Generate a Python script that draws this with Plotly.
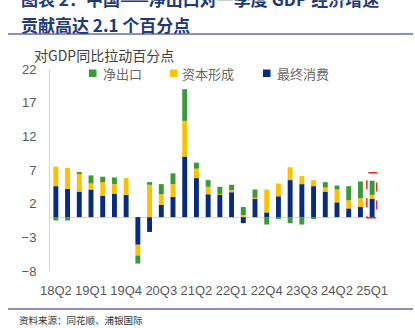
import plotly.graph_objects as go

# Quarterly contributions to China's year-on-year GDP growth (percentage points)
quarters = ["18Q2", "18Q3", "18Q4", "19Q1", "19Q2", "19Q3", "19Q4",
            "20Q1", "20Q2", "20Q3", "20Q4", "21Q1", "21Q2", "21Q3", "21Q4",
            "22Q1", "22Q2", "22Q3", "22Q4", "23Q1", "23Q2", "23Q3", "23Q4",
            "24Q1", "24Q2", "24Q3", "24Q4", "25Q1"]
final_consumption = [4.6, 4.2, 3.8, 4.1, 3.2, 3.5, 3.3,
                     -4.1, -2.2, 1.8, 3.0, 9.0, 5.8, 3.4, 3.3,
                     3.7, -0.9, 2.7, 0.7, 3.1, 5.5, 4.9, 4.6,
                     3.8, 2.2, 1.3, 1.5, 2.7]
capital_formation = [2.9, 3.1, 2.7, 0.9, 2.0, 1.4, 2.5,
                     -1.6, 4.8, 1.6, 1.9, 5.3, 1.4, 1.1, 0.1,
                     0.3, 0.3, 0.2, 3.4, 1.9, 1.9, 1.2, 0.9,
                     0.6, 1.9, 1.2, 1.3, 0.6]
net_exports = [-0.5, -0.5, 0.2, 1.2, 0.8, 1.0, 0.0,
               -1.2, 0.4, 1.5, 1.6, 4.7, 0.9, 1.0, 1.1,
               0.8, 1.2, 1.2, -1.1, -0.3, -0.9, -1.1, -0.2,
               0.8, 0.6, 2.1, 2.5, 2.1]
x_tick_labels = quarters[::3]

series_names = ["净出口", "资本形成", "最终消费"]
colors = {"净出口": "#3A9A3A", "资本形成": "#FFC000", "最终消费": "#062C80"}

title_line1 = "图表 2：中国——净出口对一季度 GDP 经济增速"
title_line2 = "贡献高达 2.1 个百分点"
unit_label = "对GDP同比拉动百分点"
source_text = "资料来源：同花顺、浦银国际"

# Plot-area geometry in pixels (page is 415 x 328)
W, H = 415, 328
L, R, T, B = 50, 378, 69, 271


def px(x):
    return (x - L) / (R - L)


def py(y):
    return (B - y) / (B - T)


fig = go.Figure()
for name, vals in [("最终消费", final_consumption),
                   ("资本形成", capital_formation),
                   ("净出口", net_exports)]:
    fig.add_trace(go.Bar(x=quarters, y=vals, name=name,
                         marker=dict(color=colors[name], line=dict(width=0)),
                         showlegend=False))

shapes = []
annotations = []

# Hand-placed legend: small squares with labels
legend_pos = [(89, 101), (170, 180), (263, 275)]
for name, (sx, tx) in zip(series_names, legend_pos):
    shapes.append(dict(type="rect", xref="paper", yref="paper",
                       x0=px(sx), x1=px(sx + 7.5), y0=py(69.5), y1=py(77),
                       fillcolor=colors[name], line=dict(width=0)))
    annotations.append(dict(text=name, xref="paper", yref="paper",
                            x=px(tx), y=py(73.5), xanchor="left", yanchor="middle",
                            showarrow=False,
                            font=dict(family="Noto Sans CJK SC", size=13, color="#6A6A6A")))

# Dashed highlight around the latest quarter
last = len(quarters) - 1
last_top = sum(v for v in (final_consumption[last], capital_formation[last], net_exports[last]) if v > 0)
shapes.append(dict(type="rect", xref="x", yref="y",
                   x0=last - 0.45, x1=last + 0.38, y0=-0.1, y1=last_top + 1.2,
                   line=dict(color="#FF2020", width=1.5, dash="dash")))

# Header and footer rules
for yy in (34, 309):
    shapes.append(dict(type="line", xref="paper", yref="paper",
                       x0=px(8), x1=px(413), y0=py(yy), y1=py(yy),
                       line=dict(color="#9090C0", width=2)))

title_font = dict(family="Noto Sans CJK SC", size=17, color="#1F3A78")
annotations.append(dict(text="<b>" + title_line1 + "</b>", xref="paper", yref="paper",
                        x=px(19), y=py(-1), xanchor="left", yanchor="middle",
                        showarrow=False, font=title_font))
annotations.append(dict(text="<b>" + title_line2 + "</b>", xref="paper", yref="paper",
                        x=px(19), y=py(24), xanchor="left", yanchor="middle",
                        showarrow=False, font=title_font))
annotations.append(dict(text=unit_label, xref="paper", yref="paper",
                        x=px(32), y=py(55), xanchor="left", yanchor="middle",
                        showarrow=False,
                        font=dict(family="Noto Sans CJK SC", size=14, color="#404040")))
annotations.append(dict(text=source_text, xref="paper", yref="paper",
                        x=px(17), y=py(320), xanchor="left", yanchor="middle",
                        showarrow=False,
                        font=dict(family="Noto Sans CJK SC", size=9.5, color="#333333")))

fig.update_layout(
    width=W, height=H,
    margin=dict(l=L, r=W - R, t=T, b=H - B, pad=0),
    paper_bgcolor="white", plot_bgcolor="white",
    barmode="relative", bargap=0.58,
    showlegend=False,
    shapes=shapes, annotations=annotations,
    font=dict(family="Liberation Sans", size=13, color="#595959"),
)
fig.update_xaxes(type="category", tickmode="array", tickvals=x_tick_labels,
                 ticktext=x_tick_labels, showgrid=False, showline=False,
                 ticks="", ticklabelstandoff=10,
                 tickfont=dict(family="Liberation Sans", size=13, color="#595959"))
fig.update_yaxes(range=[-8, 22], tick0=-8, dtick=5, showgrid=False,
                 showline=True, linecolor="#D9D9D9", linewidth=1,
                 zeroline=True, zerolinecolor="#D9D9D9", zerolinewidth=1,
                 ticks="", ticklabelstandoff=10,
                 tickfont=dict(family="Liberation Sans", size=13, color="#595959"))

fig.write_html("out.html")
